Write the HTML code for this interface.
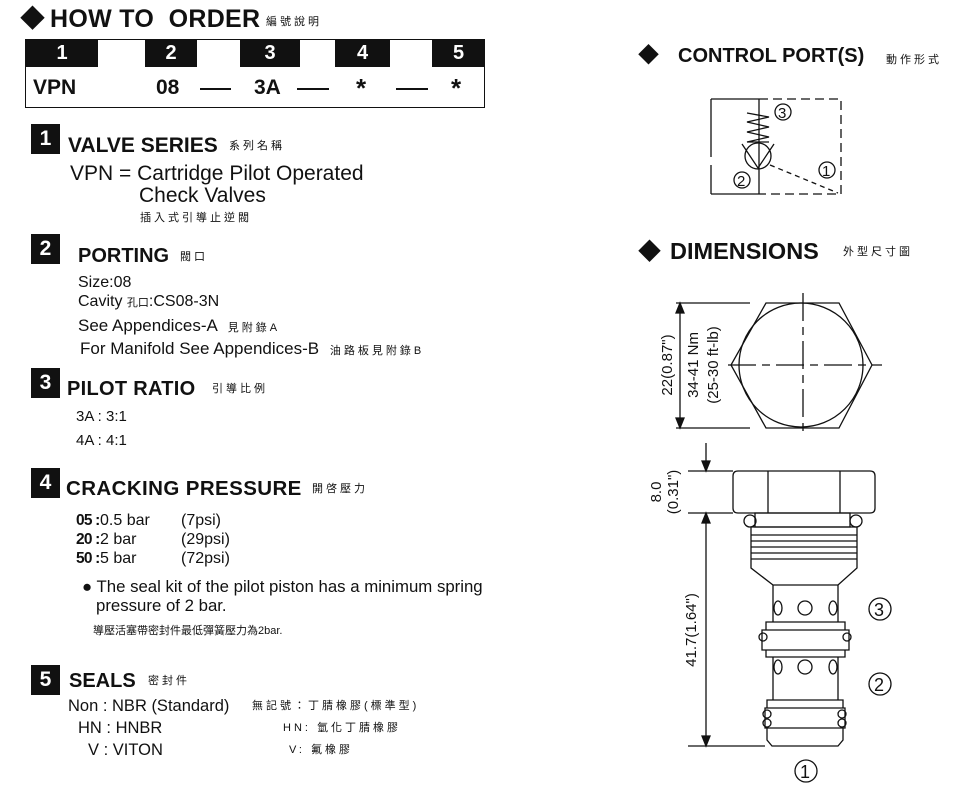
<!DOCTYPE html>
<html><head><meta charset="utf-8"><style>
body{margin:0;background:#fff;width:980px;height:801px;position:relative;overflow:hidden;font-family:"Liberation Sans","Noto Sans CJK TC",sans-serif;color:#111}
.t{position:absolute;white-space:nowrap;line-height:1}
.b{font-weight:bold}
.c{font-size:11px;letter-spacing:3px}
.badge{position:absolute;width:29px;height:30px;background:#111;color:#fff;font-weight:bold;font-size:21px;text-align:center;line-height:30px}
.cell{position:absolute;top:40px;height:27px;background:#111;color:#fff;font-weight:bold;font-size:20px;text-align:center;line-height:27px}
.k{letter-spacing:-0.8px}
</style></head><body>
<div class="t b" style="left:20px;top:7px;font-size:25px">◆</div>
<div class="t b" style="left:50px;top:7px;font-size:25px;letter-spacing:0.3px">HOW TO&nbsp; ORDER</div>
<div class="t c" style="left:266px;top:17px">編號說明</div>
<div style="position:absolute;left:25px;top:39px;width:458px;height:67px;border:1.5px solid #111"></div>
<div class="cell" style="left:26px;width:72px">1</div>
<div class="cell" style="left:145px;width:52px">2</div>
<div class="cell" style="left:240px;width:60px">3</div>
<div class="cell" style="left:335px;width:55px">4</div>
<div class="cell" style="left:432px;width:53px">5</div>
<div class="t b" style="left:33px;top:77px;font-size:21px">VPN</div>
<div class="t b" style="left:156px;top:77px;font-size:21px">08</div>
<div class="t b" style="left:254px;top:77px;font-size:21px">3A</div>
<div class="t b" style="left:356px;top:75px;font-size:26px">*</div>
<div class="t b" style="left:451px;top:75px;font-size:26px">*</div>
<div style="position:absolute;left:200px;top:88px;width:31px;border-top:2px solid #111"></div>
<div style="position:absolute;left:297px;top:88px;width:32px;border-top:2px solid #111"></div>
<div style="position:absolute;left:396px;top:88px;width:32px;border-top:2px solid #111"></div>

<div class="badge" style="left:31px;top:124px">1</div>
<div class="t b" style="left:68px;top:135px;font-size:21px">VALVE SERIES</div>
<div class="t c" style="left:229px;top:141px">系列名稱</div>
<div class="t" style="left:70px;top:163px;font-size:21px">VPN = Cartridge Pilot Operated</div>
<div class="t" style="left:139px;top:185px;font-size:21px">Check Valves</div>
<div class="t c" style="left:140px;top:213px">插入式引導止逆閥</div>

<div class="badge" style="left:31px;top:234px">2</div>
<div class="t b" style="left:78px;top:246px;font-size:20px">PORTING</div>
<div class="t c" style="left:180px;top:252px">閥口</div>
<div class="t" style="left:78px;top:275px;font-size:16px">Size:08</div>
<div class="t" style="left:78px;top:294px;font-size:16px">Cavity <span style="font-size:11px">孔口</span>:CS08-3N</div>
<div class="t" style="left:78px;top:317px;font-size:17px">See Appendices-A <span class="c">&nbsp;見附錄</span><span style="font-size:11px">A</span></div>
<div class="t" style="left:80px;top:340px;font-size:17px">For Manifold See Appendices-B <span class="c">&nbsp;油路板見附錄</span><span style="font-size:11px">B</span></div>

<div class="badge" style="left:31px;top:368px">3</div>
<div class="t b" style="left:67px;top:379px;font-size:20px;letter-spacing:0.3px">PILOT RATIO</div>
<div class="t c" style="left:212px;top:384px">引導比例</div>
<div class="t" style="left:76px;top:409px;font-size:15px">3A : 3:1</div>
<div class="t" style="left:76px;top:433px;font-size:15px">4A : 4:1</div>

<div class="badge" style="left:31px;top:468px">4</div>
<div class="t b" style="left:66px;top:479px;font-size:20.5px;letter-spacing:0.4px">CRACKING PRESSURE</div>
<div class="t c" style="left:312px;top:484px">開啓壓力</div>
<div class="t b k" style="left:76px;top:513px;font-size:15.5px">05 :</div><div class="t" style="left:100px;top:513px;font-size:16px">0.5 bar</div><div class="t" style="left:181px;top:513px;font-size:16px">(7psi)</div>
<div class="t b k" style="left:76px;top:532px;font-size:15.5px">20 :</div><div class="t" style="left:100px;top:532px;font-size:16px">2 bar</div><div class="t" style="left:181px;top:532px;font-size:16px">(29psi)</div>
<div class="t b k" style="left:76px;top:551px;font-size:15.5px">50 :</div><div class="t" style="left:100px;top:551px;font-size:16px">5 bar</div><div class="t" style="left:181px;top:551px;font-size:16px">(72psi)</div>
<div class="t" style="left:82px;top:579px;font-size:16.8px">● The seal kit of the pilot piston has a minimum spring</div>
<div class="t" style="left:96px;top:598px;font-size:16.8px">pressure of 2 bar.</div>
<div class="t" style="left:93px;top:626px;font-size:11px">導壓活塞帶密封件最低彈簧壓力為2bar.</div>

<div class="badge" style="left:31px;top:665px">5</div>
<div class="t b" style="left:69px;top:671px;font-size:20px">SEALS</div>
<div class="t c" style="left:148px;top:676px">密封件</div>
<div class="t" style="left:68px;top:698px;font-size:16.5px">Non : NBR (Standard)</div>
<div class="t c" style="left:252px;top:701px">無記號：丁腈橡膠(標準型)</div>
<div class="t" style="left:78px;top:720px;font-size:16.5px">HN : HNBR</div>
<div class="t c" style="left:283px;top:723px">HN: 氫化丁腈橡膠</div>
<div class="t" style="left:88px;top:742px;font-size:16.5px">V : VITON</div>
<div class="t c" style="left:289px;top:745px">V: 氟橡膠</div>

<div class="t b" style="left:638px;top:45px;font-size:21px">◆</div>
<div class="t b" style="left:678px;top:46px;font-size:20px">CONTROL PORT(S)</div>
<div class="t c" style="left:886px;top:55px">動作形式</div>
<div class="t b" style="left:638px;top:240px;font-size:23px">◆</div>
<div class="t b" style="left:670px;top:240px;font-size:23.5px">DIMENSIONS</div>
<div class="t c" style="left:843px;top:247px">外型尺寸圖</div>

<svg style="position:absolute;left:0;top:0" width="980" height="801" fill="none" stroke="#111" stroke-width="1.3" font-family="Liberation Sans, sans-serif">
<path d="M711 99H759M711 194H759M711 99V157M711 165V194M759 99V194"/>
<path d="M759 99H841V194H759" stroke-dasharray="9 5"/>
<path d="M747 113L769 117L747 122L769 127L747 132L769 137L747 142L769 142"/>
<circle cx="758" cy="156" r="13"/>
<path d="M742 144L758 168L774 144"/>
<path d="M770 165L838 193" stroke-dasharray="5 4"/>
<g font-size="15" fill="#111" stroke="none">
<text x="778" y="118">3</text><text x="737" y="186">2</text><text x="822" y="176">1</text></g>
<circle cx="783" cy="112" r="8"/><circle cx="742" cy="180" r="8"/><circle cx="827" cy="170" r="8"/>

<path d="M766 303H839L872 365L839 428H766L731 365Z"/>
<circle cx="801" cy="365" r="62"/>
<path d="M728 365H882M803 293V437" stroke-dasharray="28 6 8 6"/>
<path d="M676 303H750M676 428H750M680 306V425"/>
<path d="M680 303l-4 10h8zM680 428l-4-10h8z" fill="#111"/>
<g font-size="15" fill="#111" stroke="none">
<text transform="translate(672 365) rotate(-90)" text-anchor="middle">22(0.87")</text>
<text transform="translate(698 365) rotate(-90)" text-anchor="middle">34-41 Nm</text>
<text transform="translate(718 365) rotate(-90)" text-anchor="middle">(25-30 ft-lb)</text>
<text transform="translate(661 492) rotate(-90)" text-anchor="middle">8.0</text>
<text transform="translate(678 492) rotate(-90)" text-anchor="middle">(0.31")</text>
<text transform="translate(696 630) rotate(-90)" text-anchor="middle">41.7(1.64")</text>
<text x="874" y="616" font-size="18">3</text><text x="874" y="691" font-size="18">2</text><text x="800" y="778" font-size="18">1</text>
</g>
<circle cx="880" cy="609" r="11"/><circle cx="880" cy="684" r="11"/><circle cx="806" cy="771" r="11"/>
<path d="M706 443V468M688 471H733M688 513H733M706 516V743M688 746H765"/>
<path d="M706 471l-4-10h8zM706 513l-4 10h8zM706 746l-4-10h8z" fill="#111"/>
<path d="M738 471H870Q875 471 875 476V508Q875 513 870 513H738Q733 513 733 508V476Q733 471 738 471ZM768 471V513M840 471V513"/>
<path d="M755 513H850V527H755Z"/><circle cx="750" cy="521" r="6"/><circle cx="856" cy="521" r="6"/>
<path d="M751 527H857V568L838 585H773L751 568ZM751 535H857M751 541H857M751 547H857M751 553H857M751 559H857"/>
<path d="M773 585V622M838 585V622"/>
<ellipse cx="778" cy="608" rx="4" ry="7"/><ellipse cx="805" cy="608" rx="7" ry="7"/><ellipse cx="833" cy="608" rx="4" ry="7"/>
<path d="M766 622H845V630H766ZM762 630H849V650H762ZM766 650H845V657H766Z"/>
<circle cx="763" cy="637" r="4"/><circle cx="847" cy="637" r="4"/>
<path d="M773 657V700M838 657V700"/>
<ellipse cx="778" cy="667" rx="4" ry="7"/><ellipse cx="805" cy="667" rx="7" ry="7"/><ellipse cx="833" cy="667" rx="4" ry="7"/>
<path d="M767 700H843V708H767ZM765 708H845V728H765ZM767 728H843V740L838 746H772L767 740Z"/>
<circle cx="767" cy="714" r="4"/><circle cx="842" cy="714" r="4"/><circle cx="767" cy="723" r="4"/><circle cx="842" cy="723" r="4"/>
</svg>
</body></html>
